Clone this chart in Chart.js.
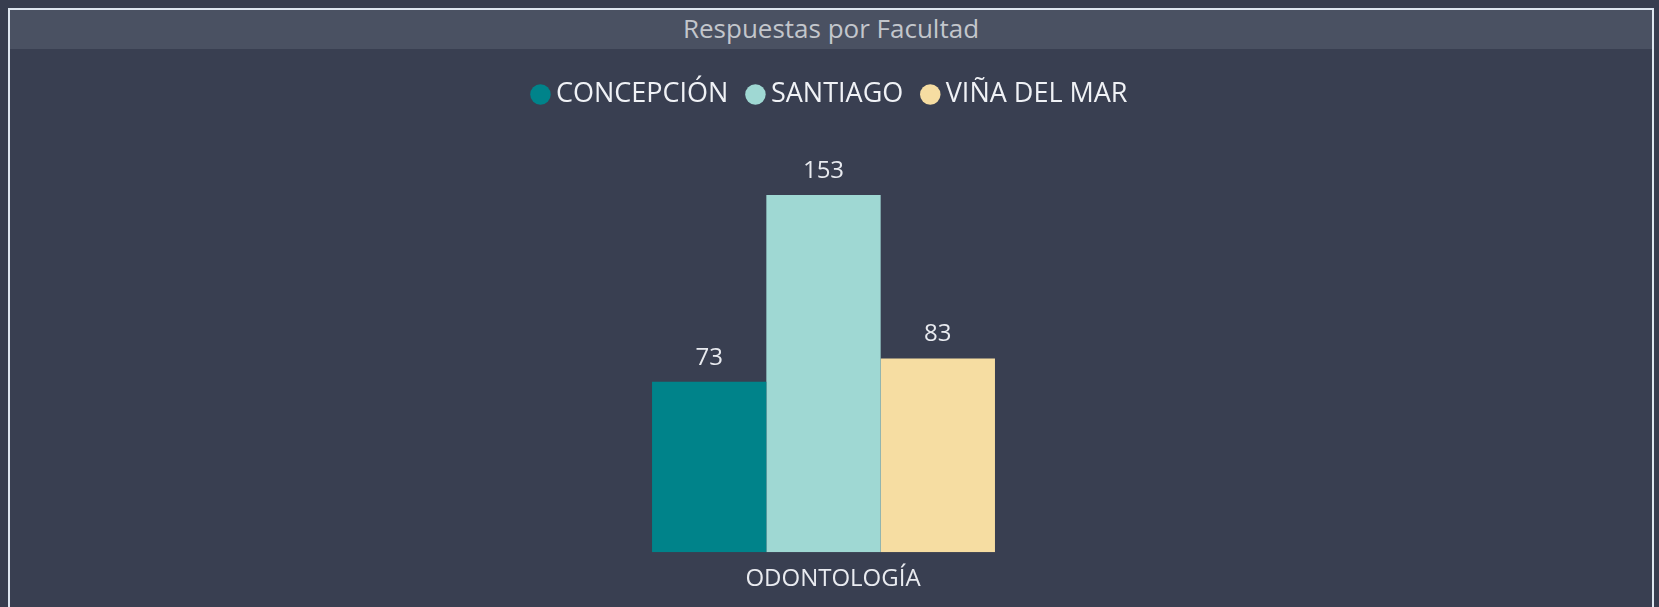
<!DOCTYPE html>
<html>
<head>
<meta charset="utf-8">
<script src="https://cdn.jsdelivr.net/npm/chart.js@4"></script>
<style>
  html, body { margin: 0; padding: 0; width: 1659px; height: 607px; overflow: hidden; background: #373d4f; }
  #frame {
    position: absolute; left: 8px; top: 8px; width: 1642px; height: 620px;
    border: 2px solid #dde6f0; border-bottom: none; background: #393f51;
  }
  #title {
    height: 39px; line-height: 48px; background: #4a5162; color: #c3c6cc;
    font: 26px "Segoe UI", "Open Sans", sans-serif; text-align: center; overflow: hidden;
  }
  #wrap { position: absolute; left: 0; top: 0; width: 1659px; height: 607px; }
</style>
</head>
<body>
<div id="frame"><div id="title">Respuestas por Facultad</div></div>
<div id="wrap"><canvas id="chart-facultad"></canvas></div>
<script>
// data
const categories = ['ODONTOLOGÍA'];
const seriesNames = ['CONCEPCIÓN', 'SANTIAGO', 'VIÑA DEL MAR'];
const concepcion = [73];
const santiago = [153];
const vinaDelMar = [83];
const seriesColors = ['#00838a', '#9fd8d3', '#f6dda2'];

const fontFamily = '"Segoe UI", "Open Sans", sans-serif';

// draws the value above each bar
const valueLabels = {
  id: 'valueLabels',
  afterDatasetsDraw(chart) {
    const ctx = chart.ctx;
    ctx.save();
    ctx.font = '24px ' + fontFamily;
    ctx.fillStyle = '#e9ebf0';
    ctx.textAlign = 'center';
    ctx.textBaseline = 'alphabetic';
    chart.data.datasets.forEach(function(ds, i) {
      chart.getDatasetMeta(i).data.forEach(function(bar, j) {
        ctx.fillText(ds.data[j], bar.x, bar.y - 17);
      });
    });
    ctx.restore();
  }
};

const canvas = document.getElementById('chart-facultad');

const chartFacultad = new Chart(canvas, {
  type: 'bar',
  data: {
    labels: categories,
    datasets: [
      { label: seriesNames[0], data: concepcion, backgroundColor: seriesColors[0] },
      { label: seriesNames[1], data: santiago, backgroundColor: seriesColors[1] },
      { label: seriesNames[2], data: vinaDelMar, backgroundColor: seriesColors[2] }
    ]
  },
  options: {
    responsive: true,
    maintainAspectRatio: false,
    animation: false,
    layout: { padding: { top: 56, left: 12, right: 5, bottom: 8 } },
    datasets: {
      bar: { categoryPercentage: 0.2113, barPercentage: 1, borderWidth: 0 }
    },
    plugins: {
      tooltip: { enabled: false },
      legend: {
        position: 'top',
        labels: {
          usePointStyle: true,
          pointStyle: 'circle',
          boxWidth: 4,
          boxHeight: 14.5,
          padding: 25,
          color: '#f0f2f6',
          font: { family: fontFamily, size: 27 }
        }
      }
    },
    scales: {
      x: {
        grid: { display: false },
        border: { display: false },
        ticks: {
          color: '#e9ebf0',
          padding: 5,
          labelOffset: 9.5,
          font: { family: fontFamily, size: 24 }
        }
      },
      y: {
        position: 'right',
        min: 0,
        max: 186,
        grid: { display: false },
        border: { display: false },
        ticks: { display: false },
        afterFit: function(axis) { axis.width = 19; }
      }
    }
  },
  plugins: [valueLabels]
});
</script>
</body>
</html>
